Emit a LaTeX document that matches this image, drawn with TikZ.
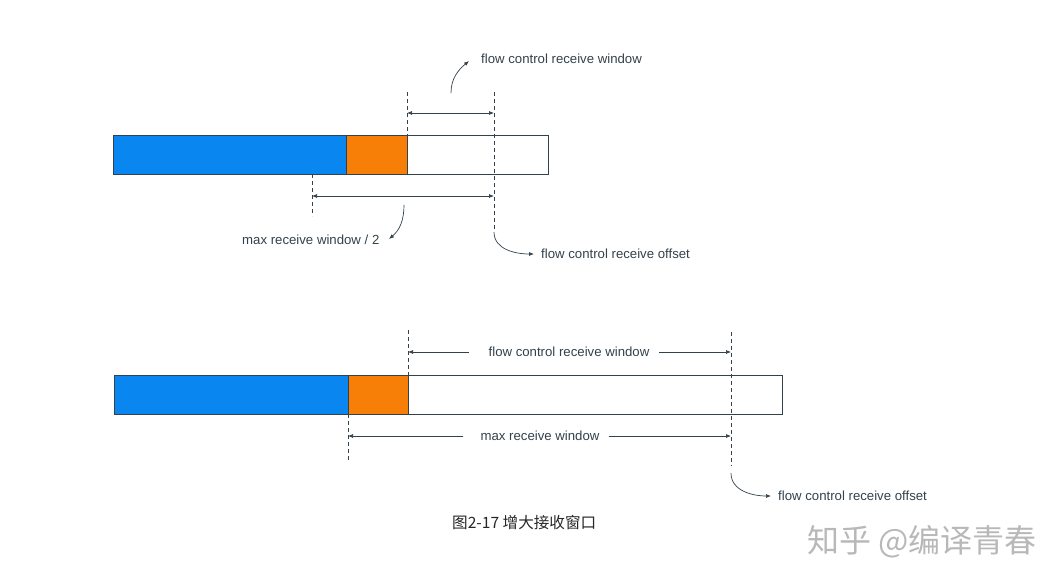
\documentclass[tikz,border=0pt]{standalone}
\usepackage{fontspec}
\setmainfont{Liberation Sans}
\newfontfamily\cjkfont{Noto Sans CJK SC}
\usetikzlibrary{arrows.meta}
\definecolor{qblue}{HTML}{0A86F0}
\definecolor{qorange}{HTML}{F77F08}
\definecolor{qline}{HTML}{33414B}
\tikzset{
  seg/.style={draw=qline, line width=0.9pt, inner sep=0, outer sep=0, minimum height=39pt, anchor=north west},
  guide/.style={draw=qline, dashed, dash pattern=on 4pt off 3pt, line width=0.7pt},
  dim/.style={draw=qline, line width=0.7pt, {Latex[length=5pt,width=4pt]}-{Latex[length=5pt,width=4pt]}},
  half/.style={draw=qline, line width=0.7pt, -{Latex[length=5pt,width=4pt]}},
  lbl/.style={font=\fontsize{13.2}{15}\selectfont, text=qline, inner sep=1pt},
  callout/.style={draw=qline, line width=0.7pt, -{Latex[length=5pt,width=4pt]}},
}
\begin{document}
\begin{tikzpicture}[x=1pt,y=-1pt]
\useasboundingbox (0,0) rectangle (1045,573);
% ---------- top bar ----------
\node[seg, fill=qblue, minimum width=233pt] (tb) at (113,135) {};
\node[seg, fill=qorange, minimum width=61pt] (to) at (346,135) {};
\node[seg, fill=white, minimum width=141pt] (tw) at (407,135) {};
\coordinate (t1a) at (407,92);
\coordinate (t2a) at (494,92);
\coordinate (t2b) at (494,230);
\coordinate (t3a) at (312,174);
\coordinate (t3b) at (312,216);
\draw[guide] (t1a) -- (tw.north west);
\draw[guide] (t2a) -- (t2b);
\draw[guide] (t3a) -- (t3b);
\coordinate (ta1) at (407,113);
\coordinate (ta2) at (494,113);
\draw[dim] (ta1) -- (ta2);
\coordinate (tb1) at (312,196);
\coordinate (tb2) at (494,196);
\draw[dim] (tb1) -- (tb2);
\node[lbl, anchor=west] (fcw1) at (480,59) {flow control receive window};
\coordinate (c1a) at (451,93);
\coordinate (c1b) at (469,61);
\draw[callout] (c1a) to[out=90,in=220] (c1b);
\node[lbl, anchor=west] (mrw2) at (241,240) {max receive window / 2};
\coordinate (c2a) at (404,205);
\coordinate (c2b) at (389,239);
\draw[callout] (c2a) to[out=-90,in=40] (c2b);
\node[lbl, anchor=west] (fco1) at (540,254) {flow control receive offset};
\coordinate (c3a) at (494,232);
\coordinate (c3b) at (534,254);
\draw[callout] (c3a) to[out=-90,in=180] (c3b);
% ---------- bottom bar ----------
\node[seg, fill=qblue, minimum width=234pt] (bb) at (114,375) {};
\node[seg, fill=qorange, minimum width=60pt] (bo) at (348,375) {};
\node[seg, fill=white, minimum width=374pt] (bw) at (408,375) {};
\coordinate (b1a) at (408,330);
\coordinate (b2a) at (731,332);
\coordinate (b2b) at (731,466);
\coordinate (b3b) at (348,460);
\draw[guide] (b1a) -- (bw.north west);
\draw[guide] (b2a) -- (b2b);
\draw[guide] (bo.south west) -- (b3b);
\node[lbl] (fcw2) at (569,352) {flow control receive window};
\coordinate (ba1) at (408,352);
\coordinate (ba2) at (731,352);
\draw[half] ([xshift=-18pt]fcw2.west) -- (ba1);
\draw[half] ([xshift=8pt]fcw2.east) -- (ba2);
\node[lbl] (mrw) at (540,436) {max receive window};
\coordinate (bb1) at (348,436);
\coordinate (bb2) at (731,436);
\draw[half] ([xshift=-16pt]mrw.west) -- (bb1);
\draw[half] ([xshift=8pt]mrw.east) -- (bb2);
\node[lbl, anchor=west] (fco2) at (777,496) {flow control receive offset};
\coordinate (c4a) at (731,473);
\coordinate (c4b) at (771,496);
\draw[callout] (c4a) to[out=-90,in=180] (c4b);
% ---------- caption & watermark ----------
\node[font=\cjkfont\fontsize{15.6}{18}\selectfont, text=black!85, anchor=west, inner sep=0] (cap) at (452,523) {图2-17 增大接收窗口};
\node[font=\cjkfont\fontsize{32}{36}\selectfont, text=black!28, anchor=west, inner sep=0] (wm) at (807,542) {知乎 @编译青春};
\end{tikzpicture}
\end{document}
